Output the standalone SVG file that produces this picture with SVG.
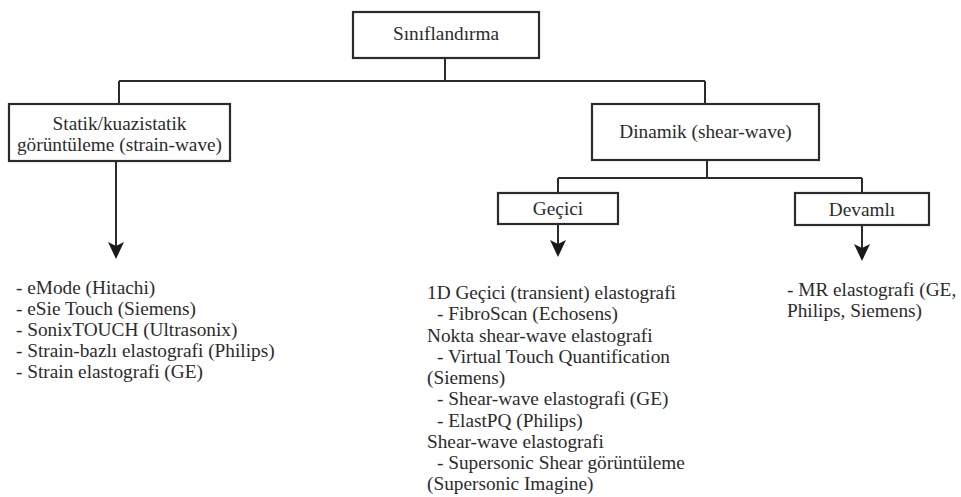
<svg xmlns="http://www.w3.org/2000/svg" width="961" height="497" viewBox="0 0 961 497">
<style>
.box{fill:#fff;stroke:#2b2b2b;stroke-width:2.2}
.ln{fill:none;stroke:#2b2b2b;stroke-width:2}
.ah{fill:#1a1a1a}
text{font-family:"Liberation Serif","Times New Roman",serif;font-size:19.3px;fill:#2b2b2b}
.c{text-anchor:middle}
</style>
<rect width="961" height="497" fill="#fff"/>
<g id="connectors">
<path class="ln" d="M445,58 V81 M119,81 H705 M119,81 V104 M705,81 V104"/>
<path class="ln" d="M707,160 V178 M558,178 H862 M558,178 V193 M862,178 V193"/>
<path class="ln" d="M116,161 V246"/>
<path class="ah" d="M116,259 L108,242 L116,246 L124,242 Z"/>
<path class="ln" d="M558,224 V244"/>
<path class="ah" d="M558,257 L550,240 L558,244 L566,240 Z"/>
<path class="ln" d="M862,225 V248"/>
<path class="ah" d="M862,261 L854,244 L862,248 L870,244 Z"/>
</g>
<g id="root">
<rect class="box" x="353" y="12" width="186" height="46"/>
<text class="c" x="446" y="40">Sınıflandırma</text>
</g>
<g id="static">
<rect class="box" x="9" y="104" width="221" height="57"/>
<text class="c" x="119.5" y="130">Statik/kuazistatik</text>
<text class="c" x="119.5" y="151">görüntüleme (strain-wave)</text>
</g>
<g id="dynamic">
<rect class="box" x="592" y="104" width="227" height="56"/>
<text class="c" x="705.5" y="138">Dinamik (shear-wave)</text>
</g>
<g id="gecici">
<rect class="box" x="498" y="193" width="120" height="31"/>
<text class="c" x="558" y="215">Geçici</text>
</g>
<g id="devamli">
<rect class="box" x="795" y="193" width="134" height="32"/>
<text class="c" x="862" y="216">Devamlı</text>
</g>
<g id="static-list">
<text x="16" y="294">- eMode (Hitachi)</text>
<text x="16" y="315">- eSie Touch (Siemens)</text>
<text x="16" y="336">- SonixTOUCH (Ultrasonix)</text>
<text x="16" y="357">- Strain-bazlı elastografi (Philips)</text>
<text x="16" y="378">- Strain elastografi (GE)</text>
</g>
<g id="gecici-list">
<text x="427" y="299">1D Geçici (transient) elastografi</text>
<text x="437" y="320">- FibroScan (Echosens)</text>
<text x="427" y="342">Nokta shear-wave elastografi</text>
<text x="437" y="363">- Virtual Touch Quantification</text>
<text x="427" y="384">(Siemens)</text>
<text x="437" y="405">- Shear-wave elastografi (GE)</text>
<text x="437" y="427">- ElastPQ (Philips)</text>
<text x="427" y="448">Shear-wave elastografi</text>
<text x="437" y="469">- Supersonic Shear görüntüleme</text>
<text x="427" y="490">(Supersonic Imagine)</text>
</g>
<g id="devamli-list">
<text x="787" y="296">- MR elastografi (GE,</text>
<text x="787" y="317">Philips, Siemens)</text>
</g>
</svg>
